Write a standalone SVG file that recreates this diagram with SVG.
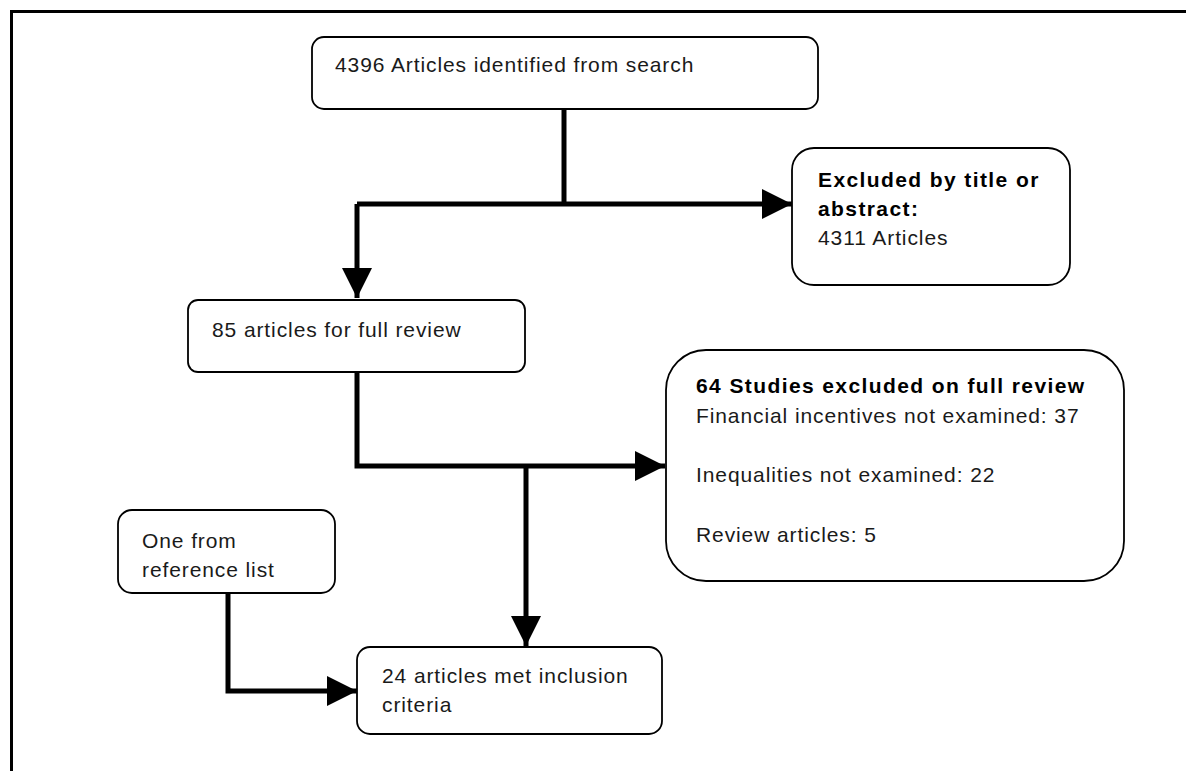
<svg xmlns="http://www.w3.org/2000/svg" width="1186" height="771" viewBox="0 0 1186 771">
<style>
.box{fill:#fff;stroke:#000;stroke-width:1.8}
.t{font-family:"Liberation Sans",Arial,sans-serif;font-size:21px;letter-spacing:0.9px;fill:#1a1a1a}
.b{font-weight:bold;fill:#000;letter-spacing:1.4px}
.c{fill:none;stroke:#000;stroke-width:5}
.frame{fill:none;stroke:#000;stroke-width:3}
</style>
<defs>
<marker id="ah" viewBox="0 0 30 30" refX="30" refY="15" markerWidth="30" markerHeight="30" markerUnits="userSpaceOnUse" orient="auto">
<path d="M0,0 L30,15 L0,30 Z" fill="#000"/>
</marker>
</defs>
<rect width="1186" height="771" fill="#fff"/>
<path class="frame" d="M11.5,771 V11.5 H1186"/>
<g id="connectors">
<path class="c" d="M564,109 V204"/>
<path class="c" d="M357,204 H792" marker-end="url(#ah)"/>
<path class="c" d="M357,204 V298" marker-end="url(#ah)"/>
<path class="c" d="M357,372 V466 H665" marker-end="url(#ah)"/>
<path class="c" d="M526,466 V646" marker-end="url(#ah)"/>
<path class="c" d="M228,593 V691 H357" marker-end="url(#ah)"/>
</g>
<g id="n1">
<rect class="box" x="312" y="37" width="506" height="72" rx="12"/>
<text class="t" x="335" y="72">4396 Articles identified from search</text>
</g>
<g id="n2">
<rect class="box" x="792" y="148" width="278" height="137" rx="22"/>
<text class="t b" x="818" y="187">Excluded by title or</text>
<text class="t b" x="818" y="216">abstract:</text>
<text class="t" x="818" y="245">4311 Articles</text>
</g>
<g id="n3">
<rect class="box" x="188" y="300" width="337" height="72" rx="10"/>
<text class="t" x="212" y="337">85 articles for full review</text>
</g>
<g id="n4">
<rect class="box" x="666" y="350" width="458" height="231" rx="40"/>
<text class="t b" x="696" y="393">64 Studies excluded on full review</text>
<text class="t" x="696" y="423">Financial incentives not examined: 37</text>
<text class="t" x="696" y="482">Inequalities not examined: 22</text>
<text class="t" x="696" y="542">Review articles: 5</text>
</g>
<g id="n5">
<rect class="box" x="118" y="510" width="217" height="83" rx="14"/>
<text class="t" x="142" y="548">One from</text>
<text class="t" x="142" y="577">reference list</text>
</g>
<g id="n6">
<rect class="box" x="357" y="647" width="305" height="87" rx="13"/>
<text class="t" x="382" y="683">24 articles met inclusion</text>
<text class="t" x="382" y="712">criteria</text>
</g>
</svg>
